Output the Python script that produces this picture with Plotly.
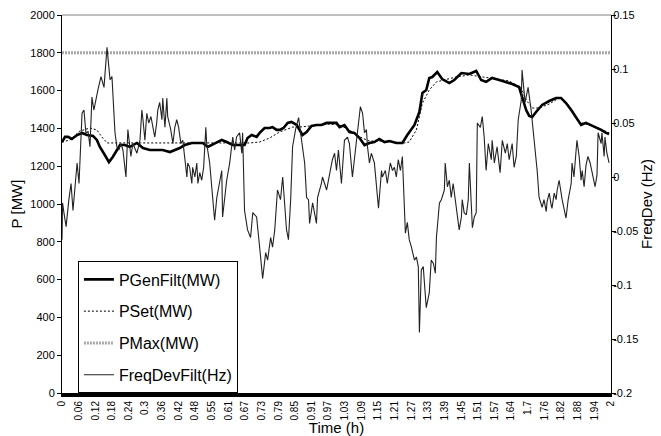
import plotly.graph_objects as go

# ---------------- data ----------------
freq_t = [0.000, 0.002, 0.007, 0.015, 0.025, 0.033, 0.040, 0.047, 0.055, 0.062, 0.073, 0.080, 0.087, 0.095,
          0.102, 0.109, 0.116, 0.131, 0.142, 0.153, 0.164, 0.175, 0.182, 0.193, 0.200, 0.207, 0.215, 0.222,
          0.233, 0.240, 0.251, 0.258, 0.273, 0.284, 0.291, 0.295, 0.302, 0.309, 0.316, 0.324, 0.331, 0.338,
          0.345, 0.349, 0.356, 0.364, 0.367, 0.375, 0.382, 0.385, 0.396, 0.404, 0.411, 0.418, 0.425, 0.433,
          0.440, 0.447, 0.455, 0.458, 0.465, 0.473, 0.476, 0.484, 0.491, 0.495, 0.502, 0.509, 0.516, 0.524,
          0.527, 0.538, 0.549, 0.556, 0.564, 0.575, 0.582, 0.585, 0.593, 0.600, 0.611, 0.622, 0.629, 0.636,
          0.647, 0.655, 0.658, 0.665, 0.676, 0.687, 0.695, 0.709, 0.720, 0.731, 0.742, 0.749, 0.760, 0.767,
          0.775, 0.785, 0.796, 0.804, 0.818, 0.825, 0.833, 0.840, 0.851, 0.862, 0.869, 0.884, 0.891, 0.898,
          0.902, 0.913, 0.927, 0.931, 0.945, 0.949, 0.964, 0.975, 0.985, 0.993, 1.000, 1.007, 1.018, 1.029,
          1.040, 1.047, 1.058, 1.069, 1.076, 1.087, 1.095, 1.102, 1.109, 1.113, 1.120, 1.127, 1.138, 1.145,
          1.153, 1.164, 1.167, 1.178, 1.185, 1.196, 1.204, 1.211, 1.218, 1.225, 1.233, 1.240, 1.244, 1.247,
          1.251, 1.258, 1.265, 1.273, 1.276, 1.284, 1.291, 1.298, 1.302, 1.309, 1.316, 1.327, 1.338, 1.345,
          1.353, 1.360, 1.364, 1.375, 1.382, 1.393, 1.396, 1.404, 1.411, 1.418, 1.425, 1.433, 1.440, 1.447,
          1.455, 1.458, 1.465, 1.473, 1.480, 1.484, 1.495, 1.502, 1.509, 1.513, 1.524, 1.531, 1.538, 1.545,
          1.553, 1.564, 1.567, 1.575, 1.585, 1.596, 1.604, 1.615, 1.622, 1.629, 1.640, 1.647, 1.655, 1.662,
          1.673, 1.676, 1.687, 1.698, 1.709, 1.716, 1.724, 1.731, 1.738, 1.745, 1.749, 1.756, 1.764, 1.767,
          1.775, 1.782, 1.785, 1.793, 1.800, 1.804, 1.811, 1.822, 1.836, 1.844, 1.855, 1.858, 1.865, 1.873,
          1.876, 1.884, 1.891, 1.895, 1.902, 1.909, 1.916, 1.924, 1.931, 1.942, 1.949, 1.953, 1.964, 1.967,
          1.975, 1.978, 1.985, 1.993]
freq_dev = [-0.058, -0.024, -0.033, -0.046, -0.021, -0.006, -0.031, -0.009, 0.013, -0.006, 0.059, 0.062, 0.041, 0.042,
            0.028, 0.074, 0.062, 0.081, 0.093, 0.083, 0.120, 0.090, 0.093, 0.041, 0.028, 0.025, 0.031, 0.025,
            0.000, 0.044, 0.019, 0.031, 0.022, 0.034, 0.062, 0.053, 0.034, 0.059, 0.050, 0.056, 0.046, 0.037,
            0.050, 0.062, 0.069, 0.053, 0.073, 0.046, 0.073, 0.056, 0.044, 0.031, 0.046, 0.053, 0.046, 0.031,
            0.034, 0.016, 0.000, 0.013, 0.009, -0.006, 0.009, 0.000, 0.013, -0.006, 0.004, -0.003, 0.009, 0.046,
            0.031, 0.013, -0.019, -0.040, -0.019, -0.003, 0.006, -0.037, -0.019, -0.003, 0.013, 0.037, 0.025, 0.037,
            0.041, 0.022, 0.041, -0.031, -0.049, -0.056, -0.033, -0.037, -0.065, -0.094, -0.070, -0.077, -0.056, -0.065,
            -0.049, -0.012, -0.021, 0.000, -0.049, -0.058, -0.021, 0.028, 0.044, 0.055, 0.041, 0.013, -0.019, -0.021,
            -0.043, -0.024, -0.043, -0.019, -0.006, 0.000, -0.012, 0.004, 0.016, 0.022, 0.006, 0.025, -0.006, 0.034,
            0.037, 0.031, 0.000, 0.025, 0.041, 0.065, 0.059, 0.041, 0.044, 0.028, 0.013, 0.022, 0.013, -0.006,
            -0.029, 0.006, 0.000, 0.006, -0.006, 0.013, 0.006, 0.009, 0.000, 0.016, 0.006, 0.019, -0.009, -0.033,
            -0.052, -0.042, -0.058, -0.065, -0.068, -0.077, -0.074, -0.083, -0.144, -0.086, -0.083, -0.121, -0.107, -0.077,
            -0.080, -0.089, -0.056, -0.024, -0.021, -0.012, 0.013, -0.009, -0.003, -0.019, -0.006, -0.021, -0.037, -0.049,
            -0.037, -0.021, -0.033, -0.035, -0.021, 0.013, -0.047, -0.037, -0.033, 0.050, 0.046, 0.056, 0.037, 0.006,
            0.031, 0.016, 0.034, 0.013, 0.028, 0.004, 0.034, 0.022, 0.031, 0.016, 0.031, 0.009, 0.019, 0.053,
            0.071, 0.099, 0.069, 0.083, 0.062, 0.044, 0.025, 0.006, -0.019, -0.024, -0.028, -0.021, -0.032, -0.023,
            -0.015, -0.026, -0.029, -0.015, -0.021, -0.012, -0.003, -0.021, -0.038, -0.021, -0.006, 0.013, 0.000, 0.025,
            0.034, 0.019, -0.003, 0.006, -0.009, 0.011, 0.019, 0.013, 0.004, -0.009, 0.002, 0.041, 0.031, 0.041,
            0.019, 0.037, 0.022, 0.013]

pgen_t = [0.000, 0.011, 0.022, 0.036, 0.055, 0.073, 0.091, 0.113, 0.127, 0.138, 0.156, 0.171, 0.185, 0.200,
          0.211, 0.229, 0.247, 0.273, 0.295, 0.320, 0.345, 0.367, 0.393, 0.411, 0.429, 0.447, 0.473, 0.495,
          0.513, 0.531, 0.545, 0.564, 0.582, 0.600, 0.622, 0.647, 0.665, 0.676, 0.691, 0.709, 0.720, 0.738,
          0.756, 0.767, 0.782, 0.793, 0.807, 0.822, 0.836, 0.855, 0.865, 0.876, 0.891, 0.909, 0.927, 0.945,
          0.964, 0.982, 1.000, 1.011, 1.029, 1.047, 1.065, 1.084, 1.102, 1.120, 1.138, 1.156, 1.175, 1.193,
          1.218, 1.240, 1.258, 1.284, 1.302, 1.313, 1.327, 1.338, 1.349, 1.367, 1.385, 1.411, 1.429, 1.455,
          1.484, 1.509, 1.527, 1.545, 1.567, 1.593, 1.618, 1.640, 1.665, 1.676, 1.691, 1.702, 1.713, 1.727,
          1.749, 1.775, 1.800, 1.818, 1.836, 1.855, 1.873, 1.891, 1.909, 1.927, 1.945, 1.964, 1.982, 1.993]
pgen_mw = [1328, 1355, 1355, 1344, 1365, 1376, 1365, 1360, 1339, 1302, 1259, 1222, 1249, 1286,
           1312, 1312, 1302, 1323, 1296, 1286, 1286, 1286, 1275, 1286, 1296, 1312, 1323, 1323,
           1323, 1302, 1312, 1328, 1339, 1328, 1312, 1312, 1312, 1349, 1365, 1355, 1376, 1402,
           1402, 1407, 1392, 1392, 1402, 1429, 1434, 1418, 1392, 1365, 1381, 1413, 1418, 1418,
           1429, 1429, 1429, 1407, 1418, 1381, 1376, 1349, 1312, 1323, 1328, 1344, 1328, 1333,
           1323, 1323, 1365, 1418, 1487, 1587, 1603, 1667, 1672, 1698, 1661, 1640, 1656, 1693,
           1688, 1704, 1656, 1646, 1667, 1656, 1646, 1635, 1619, 1566, 1497, 1466, 1460, 1487,
           1524, 1545, 1561, 1561, 1534, 1497, 1455, 1418, 1429, 1418, 1407, 1392, 1376, 1370]

pset_t = [0.000, 0.029, 0.065, 0.102, 0.127, 0.145, 0.164, 0.211, 0.320, 0.502, 0.684, 0.720, 0.756, 0.793,
          0.840, 0.865, 0.902, 0.938, 0.975, 1.011, 1.047, 1.084, 1.120, 1.156, 1.211, 1.247, 1.265, 1.291,
          1.313, 1.338, 1.364, 1.393, 1.436, 1.484, 1.531, 1.582, 1.629, 1.673, 1.691, 1.713, 1.738, 1.775,
          1.811, 1.836, 1.858, 1.884, 1.920, 1.956, 1.993]
pset_mw = [1328, 1339, 1386, 1402, 1392, 1355, 1323, 1323, 1323, 1323, 1323, 1328, 1349, 1381,
           1407, 1407, 1413, 1418, 1423, 1418, 1392, 1355, 1333, 1333, 1328, 1323, 1328, 1392,
           1534, 1603, 1646, 1656, 1672, 1683, 1672, 1661, 1651, 1614, 1550, 1508, 1508, 1529,
           1561, 1540, 1497, 1434, 1418, 1402, 1376]

pmax_t = [0.0, 2.0]
pmax_mw = [1800, 1800]

x_tick_labels = ["0", "0.06", "0.12", "0.18", "0.24", "0.3", "0.36", "0.42", "0.48", "0.55", "0.61",
                 "0.67", "0.73", "0.79", "0.85", "0.91", "0.97", "1.03", "1.09", "1.15", "1.21", "1.27",
                 "1.33", "1.39", "1.45", "1.51", "1.57", "1.64", "1.7", "1.76", "1.82", "1.88", "1.94", "2"]
y2_tick_vals = [-0.2, -0.15, -0.1, -0.05, 0, 0.05, 0.1, 0.15]
y2_tick_text = ["-0.2", "-0.15", "-0.1", "-0.05", "0", "0.05", "0.1", "0.15"]

# ---------------- figure ----------------
FONT = "Liberation Sans, Arial, sans-serif"
n_lab = len(x_tick_labels)
x_tick_vals = [2.0 * i / (n_lab - 1) for i in range(n_lab)]

fig = go.Figure()
fig.add_trace(go.Scatter(x=pgen_t, y=pgen_mw, name="PGenFilt(MW)", mode="lines",
                         line=dict(color="black", width=2.6), legendgroup="a"))
fig.add_trace(go.Scatter(x=pset_t, y=pset_mw, name="PSet(MW)", mode="lines",
                         line=dict(color="black", width=1, dash="2px,2px"), legendgroup="b"))
fig.add_trace(go.Scatter(x=pmax_t, y=pmax_mw, name="PMax(MW)", mode="lines",
                         line=dict(color="#a8a8a8", width=3, dash="2px,1px"), legendgroup="c"))
fig.add_trace(go.Scatter(x=freq_t, y=freq_dev, name="FreqDevFilt(Hz)", mode="lines", yaxis="y2",
                         line=dict(color="#222222", width=1.1), legendgroup="d"))

fig.update_layout(
    width=661, height=436,
    margin=dict(l=62, r=50, t=15, b=43, autoexpand=False),
    paper_bgcolor="white", plot_bgcolor="white",
    font=dict(family=FONT, size=11, color="black"),
    showlegend=True,
    legend=dict(x=0.029, y=0.348, xanchor="left", yanchor="top",
                bgcolor="white", bordercolor="black", borderwidth=1,
                font=dict(size=16, family=FONT), tracegroupgap=8, traceorder="grouped",
                entrywidth=124, entrywidthmode="pixels"),
    xaxis=dict(range=[0, 2], tickmode="array", tickvals=x_tick_vals, ticktext=x_tick_labels,
               tickangle=-90, tickfont=dict(size=10), showgrid=False, zeroline=False,
               showline=True, linecolor="black", linewidth=4, ticks="", automargin=False,
               title=dict(text="Time (h)", font=dict(size=15), standoff=2)),
    yaxis=dict(range=[0, 2000], dtick=200, tick0=0, showgrid=False, zeroline=False,
               showline=True, linecolor="black", linewidth=1, ticks="outside", ticklen=4,
               tickcolor="black", tickfont=dict(size=11), automargin=False,
               title=dict(text="P [MW]", font=dict(size=15), standoff=4)),
    yaxis2=dict(range=[-0.2, 0.15], overlaying="y", side="right", tickmode="array",
                tickvals=y2_tick_vals, ticktext=y2_tick_text, showgrid=False, zeroline=False,
                showline=True, linecolor="black", linewidth=1, ticks="outside", ticklen=4,
                tickcolor="black", tickfont=dict(size=11), automargin=False,
                ticklabelstandoff=-5,
                title=dict(text="FreqDev (Hz)", font=dict(size=15), standoff=0)),
    shapes=[dict(type="line", xref="paper", yref="paper", x0=0, x1=1, y0=1, y1=1,
                 line=dict(color="#808080", width=1))],
)

fig.write_html("out.html", config={"displayModeBar": False},
               post_script="document.body.style.margin='0px';"
                           "document.body.style.padding='0px';")
